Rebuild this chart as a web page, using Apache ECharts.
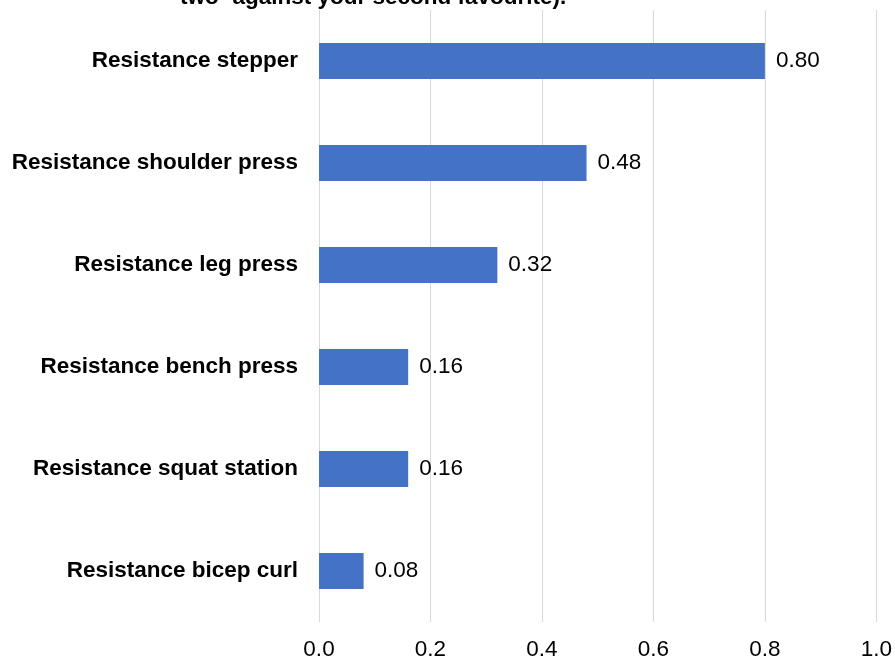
<!DOCTYPE html>
<html><head><meta charset="utf-8">
<script src="https://cdn.jsdelivr.net/npm/echarts@6/dist/echarts.min.js"></script>
<style>html,body{margin:0;padding:0;background:#fff}#c{width:895px;height:663px}</style>
</head><body><div id="c"></div>
<script>
const categories = ["Resistance bicep curl","Resistance squat station","Resistance bench press","Resistance leg press","Resistance shoulder press","Resistance stepper"];
const values = [0.08,0.16,0.16,0.32,0.48,0.80];
const titleText = "two- against your second favourite).";
const chart = echarts.init(document.getElementById('c'), null, {renderer:'canvas'});
const font = 'Liberation Sans, Arial, sans-serif';
chart.setOption({
  animation:false,
  title:{text:titleText,left:175,top:-19,textStyle:{fontFamily:font,fontSize:22.5,fontWeight:'bold',color:'#000'}},
  grid:{left:319,right:17,top:10,bottom:41,containLabel:false},
  xAxis:{type:'value',min:0,max:1,interval:0.2,
    axisLabel:{fontFamily:font,fontSize:22.5,color:'#000',margin:16,formatter:v=>v.toFixed(1)},
    axisLine:{show:false},axisTick:{show:false},
    splitLine:{show:true,lineStyle:{color:'#d9d9d9',width:1}}},
  yAxis:{type:'category',data:categories,
    axisLabel:{fontFamily:font,fontSize:22.5,fontWeight:'bold',color:'#000',margin:21},
    axisLine:{show:false},axisTick:{show:false}},
  series:[{type:'bar',data:values,barWidth:36,itemStyle:{color:'#4472C4'},
    label:{show:true,position:'right',distance:11,fontFamily:font,fontSize:22.5,color:'#000',formatter:p=>p.value.toFixed(2)}}]
});
</script></body></html>
